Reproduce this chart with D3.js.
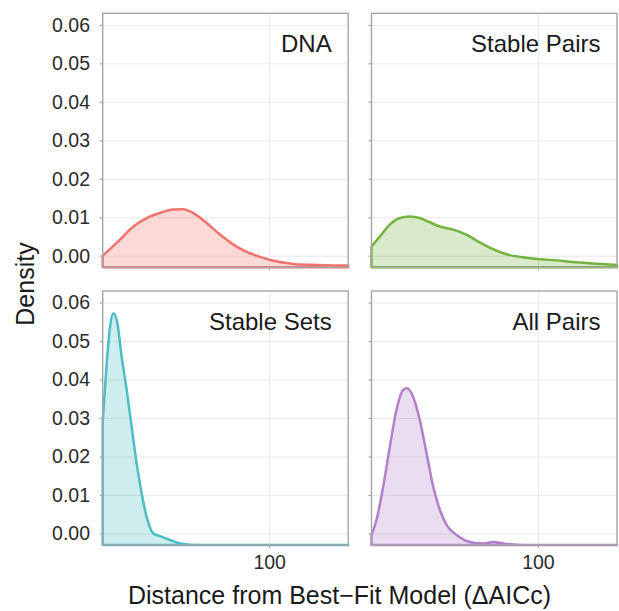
<!DOCTYPE html>
<html>
<head>
<meta charset="utf-8">
<script src="https://cdn.jsdelivr.net/npm/d3@7"></script>
<style>
  body { margin: 0; background: #fff; }
  text { font-family: "Liberation Sans", Arial, sans-serif; }
</style>
</head>
<body>
<div class="graph"></div>
<script>

// panel names, in facet order (top-left, top-right, bottom-left, bottom-right)
var panelNames = ["DNA", "Stable Pairs", "Stable Sets", "All Pairs"];
var lineColors = ["#f0736c", "#74b33d", "#4dbdc5", "#b27fcb"];

// density curves: x = ΔAICc, y = density
var dnaX = [0, 10.4, 18.4, 26.4, 34.4, 42.4, 48.1, 54.5, 62.5, 70.5, 78.5, 86.5, 94.5, 102.5, 110.6, 118.6, 138.6, 147.5];
var dnaY = [0.0000, 0.0042, 0.0076, 0.0098, 0.0111, 0.0120, 0.0121, 0.0111, 0.0085, 0.0055, 0.0029, 0.0010, -0.0003, -0.0013, -0.0019, -0.0023, -0.0025, -0.0025];

var stablePairsX = [0, 5, 11, 17, 23, 29, 35, 41, 49, 57, 65, 73, 81, 91, 101, 111, 121, 133, 147.5];
var stablePairsY = [0.0024, 0.0050, 0.0081, 0.0098, 0.0102, 0.0098, 0.0087, 0.0076, 0.0068, 0.0055, 0.0035, 0.0017, 0.0004, -0.0004, -0.0009, -0.0012, -0.0016, -0.0020, -0.0024];

var stableSetsX = [0, 2.4, 4.4, 6.4, 8.8, 11.4, 14.4, 17.4, 20.4, 23.4, 26.4, 30.4, 34.4, 40.5, 46.5, 58.5, 147.5];
var stableSetsY = [0.0290, 0.0442, 0.0537, 0.0572, 0.0546, 0.0459, 0.0373, 0.0277, 0.0182, 0.0104, 0.0043, 0.0000, -0.0007, -0.0017, -0.0026, -0.0030, -0.0030];

var allPairsX = [0, 3, 7, 11, 15, 19, 21.4, 25, 29, 33.1, 37.1, 41.1, 45.1, 51.1, 59.1, 67.1, 73.1, 79.1, 93.1, 147.5];
var allPairsY = [-0.0004, 0.0035, 0.0121, 0.0225, 0.0321, 0.0373, 0.0377, 0.0355, 0.0295, 0.0208, 0.0121, 0.0061, 0.0022, -0.0004, -0.0022, -0.0026, -0.0022, -0.0026, -0.0030, -0.0030];

var seriesX = [dnaX, stablePairsX, stableSetsX, allPairsX];
var seriesY = [dnaY, stablePairsY, stableSetsY, allPairsY];

var yTicks = [0, 0.01, 0.02, 0.03, 0.04, 0.05, 0.06];
var xTicks = [100];
var xDomain = [0, 147.5];
var yDomain = [-0.003, 0.063];


var width = 245.5,
    height = 254;
var panelLeft = [102.7, 371.5],
    panelTop = [13.3, 291];

var svg = d3.select("div.graph").append("svg")
    .attr("width", 619)
    .attr("height", 611);

var x = d3.scaleLinear().domain(xDomain).range([0, width]);
var y = d3.scaleLinear().domain(yDomain).range([height, 0]);

var area = d3.area()
    .x(function(d) { return x(d[0]); })
    .y0(y(yDomain[0]))
    .y1(function(d) { return y(d[1]); })
    .curve(d3.curveMonotoneX);

panelNames.forEach(function(name, i) {
  var col = i % 2, row = Math.floor(i / 2);

  var g = svg.append("g")
      .attr("transform", "translate(" + panelLeft[col] + "," + panelTop[row] + ")");

  g.append("rect")
      .attr("width", width)
      .attr("height", height)
      .attr("fill", "#fff");

  // grid lines
  g.append("g")
      .attr("class", "grid")
      .call(d3.axisLeft(y).tickValues(yTicks).tickSize(-width).tickFormat(""));
  g.append("g")
      .attr("class", "grid xgrid")
      .call(d3.axisTop(x).tickValues(xTicks).tickSize(-height).tickFormat(""));
  g.selectAll(".grid .domain").remove();
  g.selectAll(".grid line").attr("stroke", "#e9e9e9").attr("stroke-width", 1);

  // the density
  var pts = seriesX[i].map(function(v, k) { return [v, seriesY[i][k]]; });
  g.append("path")
      .datum(pts)
      .attr("d", area)
      .attr("fill", lineColors[i])
      .attr("fill-opacity", 0.27)
      .attr("stroke", lineColors[i])
      .attr("stroke-width", 2.5)
      .attr("stroke-linejoin", "round");

  // panel border
  g.append("rect")
      .attr("width", width)
      .attr("height", height)
      .attr("fill", "none")
      .attr("stroke", "#a6a6a6")
      .attr("stroke-width", 1.4);

  // y axis
  g.append("g")
      .attr("class", "y-axis")
      .call(d3.axisLeft(y).tickValues(yTicks).tickSize(3).tickPadding(9.7)
        .tickFormat(col === 0 ? d3.format(".2f") : ""));

  // x axis, labels only on the bottom row
  g.append("g")
      .attr("class", "x-axis")
      .attr("transform", "translate(0," + height + ")")
      .call(d3.axisBottom(x).tickValues(xTicks).tickSize(3).tickPadding(7)
        .tickFormat(row === 1 ? d3.format("d") : ""));

  g.selectAll(".y-axis .domain, .x-axis .domain").remove();
  g.selectAll(".y-axis line, .x-axis line").attr("stroke", "#a6a6a6").attr("stroke-width", 1.2);
  g.selectAll(".y-axis text, .x-axis text")
      .attr("fill", "#2b2b2b")
      .style("font-family", "'Liberation Sans', Arial, sans-serif")
      .style("font-size", "19.5px");

  // facet label
  g.append("text")
      .attr("x", width - 16.5)
      .attr("y", 38.5)
      .attr("text-anchor", "end")
      .attr("fill", "#1a1a1a")
      .style("font-size", "24px")
      .text(name);
});

svg.append("text")
    .attr("x", 128)
    .attr("y", 604)
    .attr("fill", "#1a1a1a")
    .style("font-size", "25px")
    .text("Distance from Best\u2212Fit Model (\u0394AICc)");

svg.append("text")
    .attr("transform", "translate(33.5,284) rotate(-90)")
    .attr("text-anchor", "middle")
    .attr("fill", "#1a1a1a")
    .style("font-size", "25px")
    .text("Density");

</script>
</body>
</html>
